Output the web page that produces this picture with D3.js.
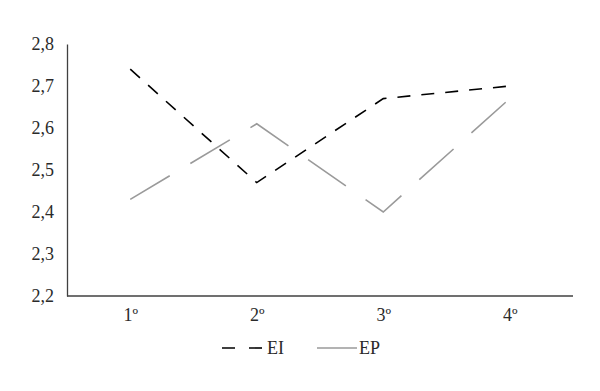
<!DOCTYPE html>
<html>
<head>
<meta charset="utf-8">
<script src="https://cdn.jsdelivr.net/npm/d3@7"></script>
<style>
  html, body { margin: 0; padding: 0; background: #fff; }
  svg { display: block; }
  text { font-family: "Liberation Serif", "Times New Roman", serif; }
</style>
</head>
<body>
<svg id="chart" width="600" height="391"></svg>
<script>
const categories = ["1º", "2º", "3º", "4º"];
const seriesNames = ["EI", "EP"];
const eiValues = [2.74, 2.47, 2.67, 2.70];
const epValues = [2.43, 2.61, 2.40, 2.67];
const yTicks = [2.2, 2.3, 2.4, 2.5, 2.6, 2.7, 2.8];

const FS = 18;
const svg = d3.select("#chart");
const margin = { left: 67, right: 27, top: 44, bottom: 95 };
const W = 600, H = 391;

const x = d3.scalePoint().domain(categories).range([margin.left, W - margin.right]).padding(0.5);
const y = d3.scaleLinear().domain([2.2, 2.8]).range([H - margin.bottom, margin.top]);

const fmt = d => d.toFixed(1).replace(".", ",");

// Y axis
const yAxis = svg.append("g")
  .attr("transform", `translate(${margin.left},0)`)
  .call(d3.axisLeft(y).tickValues(yTicks).tickFormat(fmt).tickSize(0).tickPadding(13));
yAxis.attr("font-size", FS).attr("font-family", '"Liberation Serif", serif');
yAxis.select(".domain").attr("stroke", "#404040").attr("stroke-width", 1.3);
yAxis.selectAll("text").attr("fill", "#2a2a2a").attr("dy", "0.3em");

// X axis
const xAxis = svg.append("g")
  .attr("transform", `translate(0,${H - margin.bottom})`)
  .call(d3.axisBottom(x).tickSize(0).tickPadding(12));
xAxis.attr("font-size", FS).attr("font-family", '"Liberation Serif", serif');
xAxis.select(".domain").attr("d", `M${margin.left},0H${W - margin.right}`)
  .attr("stroke", "#404040").attr("stroke-width", 1.3);
xAxis.selectAll("text").attr("fill", "#2a2a2a");

const line = d3.line().x((d, i) => x(categories[i])).y(d => y(d));

svg.append("path").datum(epValues)
  .attr("d", line).attr("fill", "none")
  .attr("stroke", "#9a9a9a").attr("stroke-width", 1.6)
  .attr("stroke-dasharray", "46,24");

svg.append("path").datum(eiValues)
  .attr("d", line).attr("fill", "none")
  .attr("stroke", "#000").attr("stroke-width", 1.6)
  .attr("stroke-dasharray", "13,11");

// Legend
const ly = 348;
const leg = svg.append("g").attr("font-size", FS).attr("fill", "#2a2a2a");
leg.append("line").attr("x1", 222).attr("x2", 262).attr("y1", ly).attr("y2", ly)
  .attr("stroke", "#000").attr("stroke-width", 1.6).attr("stroke-dasharray", "13,14");
leg.append("text").attr("x", 267).attr("y", ly + 6).text(seriesNames[0]);
leg.append("line").attr("x1", 317).attr("x2", 357).attr("y1", ly).attr("y2", ly)
  .attr("stroke", "#9a9a9a").attr("stroke-width", 1.6);
leg.append("text").attr("x", 359).attr("y", ly + 6).text(seriesNames[1]);
</script>
</body>
</html>
